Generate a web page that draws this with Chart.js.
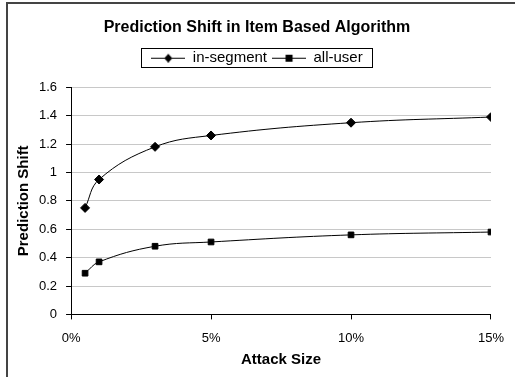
<!DOCTYPE html>
<html>
<head>
<meta charset="utf-8">
<script src="https://cdn.jsdelivr.net/npm/chart.js@4"></script>
<style>
  html, body { margin: 0; padding: 0; background: #fff; }
  #wrap { width: 515px; height: 377px; }
</style>
</head>
<body>
<div id="wrap"><canvas id="shiftChart" width="515" height="377"></canvas></div>
<script>
// Prediction Shift in Item Based Algorithm

const attackSizes = [0.5, 1, 3, 5, 10, 15];          // percent
const inSegment = [0.75, 0.95, 1.18, 1.26, 1.35, 1.39];
const allUser = [0.29, 0.37, 0.48, 0.51, 0.56, 0.58];
const xTicks = [0, 5, 10, 15];

const FONT = "'Liberation Sans', Arial, sans-serif";

function toPoints(values) {
    return attackSizes.map((x, i) => ({ x: x, y: values[i] }));
}

// legend icon: short line with the marker in the middle
function legendIcon(shape) {
    const c = document.createElement('canvas');
    c.width = 34; c.height = 10;
    const g = c.getContext('2d');
    g.strokeStyle = '#000';
    g.lineWidth = 1;
    g.beginPath(); g.moveTo(0, 5.5); g.lineTo(34, 5.5); g.stroke();
    g.fillStyle = '#000';
    if (shape === 'diamond') {
        g.beginPath();
        g.moveTo(17, 1); g.lineTo(21, 5.5); g.lineTo(17, 10); g.lineTo(13, 5.5);
        g.closePath(); g.fill();
    } else {
        g.fillRect(13.5, 2, 7, 7);
    }
    return c;
}

const frame = {
    id: 'frame',
    afterInit(chart) {
        // leave some room under the legend box
        const lg = chart.legend;
        const fit = lg.fit;
        lg.fit = function () { fit.call(this); this.height += 12; };
    },
    afterDraw(chart) {
        const g = chart.ctx;
        g.save();
        g.strokeStyle = '#444';
        g.lineWidth = 2;
        g.beginPath();
        g.moveTo(7, 377); g.lineTo(7, 3); g.lineTo(515, 3);
        g.stroke();
        const boxes = chart.legend.legendHitBoxes;
        if (boxes && boxes.length) {
            const l = Math.min(...boxes.map(b => b.left)) - 10;
            const r = Math.max(...boxes.map(b => b.left + b.width)) + 10;
            const t = Math.min(...boxes.map(b => b.top)) - 2;
            const btm = Math.max(...boxes.map(b => b.top + b.height)) + 2;
            g.lineWidth = 1;
            g.strokeStyle = '#000';
            g.strokeRect(Math.round(l) + 0.5, Math.round(t) + 0.5, Math.round(r - l), Math.round(btm - t));
        }
        g.restore();
    }
};

const ctx = document.getElementById('shiftChart').getContext('2d');

const myChart = new Chart(ctx, {
    type: 'line',
    data: {
        datasets: [{
            label: 'in-segment',
            data: toPoints(inSegment),
            borderColor: '#000',
            backgroundColor: '#000',
            borderWidth: 1,
            pointStyle: 'rectRot',
            pointRadius: 4.5,
            tension: 0.4,
            legendIcon: legendIcon('diamond')
        }, {
            label: 'all-user',
            data: toPoints(allUser),
            borderColor: '#000',
            backgroundColor: '#000',
            borderWidth: 1,
            pointStyle: 'rect',
            pointRadius: 4,
            tension: 0.4,
            legendIcon: legendIcon('square')
        }]
    },
    options: {
        responsive: false,
        animation: false,
        layout: { padding: { left: 11, right: 12, top: 6, bottom: 4 } },
        plugins: {
            title: {
                display: true,
                text: 'Prediction Shift in Item Based Algorithm',
                color: '#000',
                font: { family: FONT, size: 16, weight: 'bold' },
                padding: { top: 12, bottom: 8 }
            },
            legend: {
                labels: {
                    color: '#000',
                    font: { family: FONT, size: 15 },
                    usePointStyle: true,
                    pointStyleWidth: 34,
                    boxHeight: 10,
                    padding: 5,
                    generateLabels(chart) {
                        return chart.data.datasets.map((ds, i) => ({
                            text: ds.label,
                            pointStyle: ds.legendIcon,
                            fontColor: '#000',
                            strokeStyle: '#000',
                            fillStyle: '#000',
                            lineWidth: 0,
                            datasetIndex: i
                        }));
                    }
                }
            },
            tooltip: { enabled: false }
        },
        scales: {
            x: {
                type: 'linear',
                min: 0,
                max: 15,
                afterBuildTicks(axis) { axis.ticks = xTicks.map(v => ({ value: v })); },
                ticks: {
                    color: '#000',
                    font: { family: FONT, size: 13 },
                    padding: 11,
                    callback: v => v + '%'
                },
                grid: { drawOnChartArea: false, tickColor: '#000', tickLength: 5 },
                border: { color: '#000', width: 1 },
                title: {
                    display: true,
                    text: 'Attack Size',
                    color: '#000',
                    font: { family: FONT, size: 15, weight: 'bold' },
                    padding: { top: -6, bottom: 4 }
                }
            },
            y: {
                min: 0,
                max: 1.6,
                ticks: {
                    stepSize: 0.2,
                    color: '#000',
                    font: { family: FONT, size: 13 },
                    padding: 9,
                    callback: v => String(+v.toFixed(1))
                },
                grid: { color: '#c8c8c8', tickColor: '#000', tickLength: 5 },
                border: { color: '#000', width: 1 },
                title: {
                    display: true,
                    text: 'Prediction Shift',
                    color: '#000',
                    font: { family: FONT, size: 15, weight: 'bold' },
                    padding: { top: 4, bottom: -3 }
                }
            }
        }
    },
    plugins: [frame]
});
</script>
</body>
</html>
